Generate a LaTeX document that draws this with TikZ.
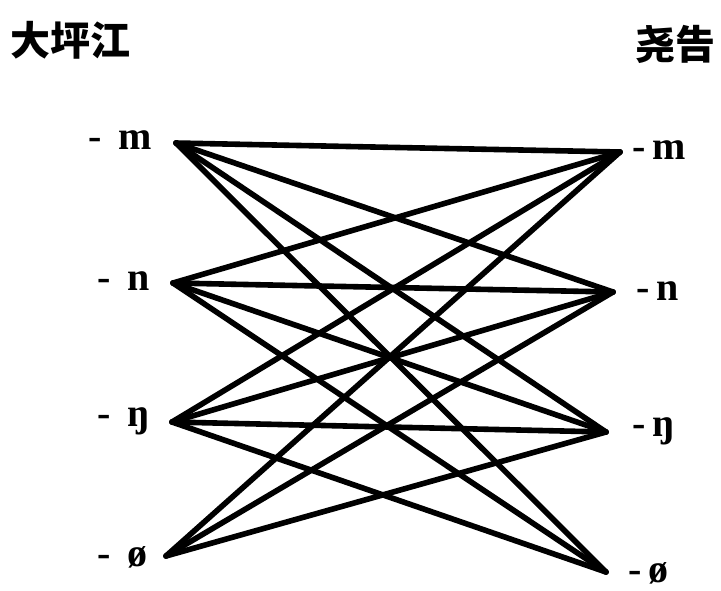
\documentclass[tikz,border=0pt]{standalone}
\usepackage{fontspec}
\setmainfont{Liberation Serif}
\newfontfamily\cjk{Noto Sans CJK SC}
\usetikzlibrary{positioning}
\tikzset{
  dialect/.style={inner sep=0pt, font=\cjk\bfseries\fontsize{20pt}{24pt}\selectfont},
  final/.style={inner sep=0pt, font=\bfseries\fontsize{20pt}{24pt}\selectfont},
  link/.style={draw=black, line width=2.8pt, line cap=round, line join=round}
}
\begin{document}
\begin{tikzpicture}[x=0.5pt, y=-0.5pt]
  \useasboundingbox (0,0) rectangle (721,590);
  % titles
  \node[dialect, anchor=west] (left) at (10,40) {大坪江};
  \node[dialect, anchor=east] (right) at (716,44) {尧告};
  % end points of the links
  \coordinate (Lm) at (176,143);
  \coordinate (Ln) at (173,283);
  \coordinate (Lng) at (172,422);
  \coordinate (Lo) at (166,556);
  \coordinate (Rm) at (620,152);
  \coordinate (Rn) at (613,292);
  \coordinate (Rng) at (606,432);
  \coordinate (Ro) at (606,572);
  % finals
  \node[final, anchor=east] (lm) at (152,140) {-\, m};
  \node[final, anchor=east] (ln) at (150,281) {-\, n};
  \node[final, anchor=east] (lng) at (150,421) {-\, ŋ};
  \node[final, anchor=east] (lo) at (148,557) {-\, ø};
  \node[final, anchor=west] (rm) at (632,150) {-\,m};
  \node[final, anchor=west] (rn) at (636,291) {-\,n};
  \node[final, anchor=west] (rng) at (632,431) {-\,ŋ};
  \node[final, anchor=west] (ro) at (628,573) {-\,ø};
  % links
  \foreach \a in {m,n,ng,o}
    \foreach \b in {m,n,ng}
      \draw[link] (L\a) -- (R\b);
  \foreach \a in {m,n,ng}
    \draw[link] (L\a) -- (Ro);
\end{tikzpicture}
\end{document}
